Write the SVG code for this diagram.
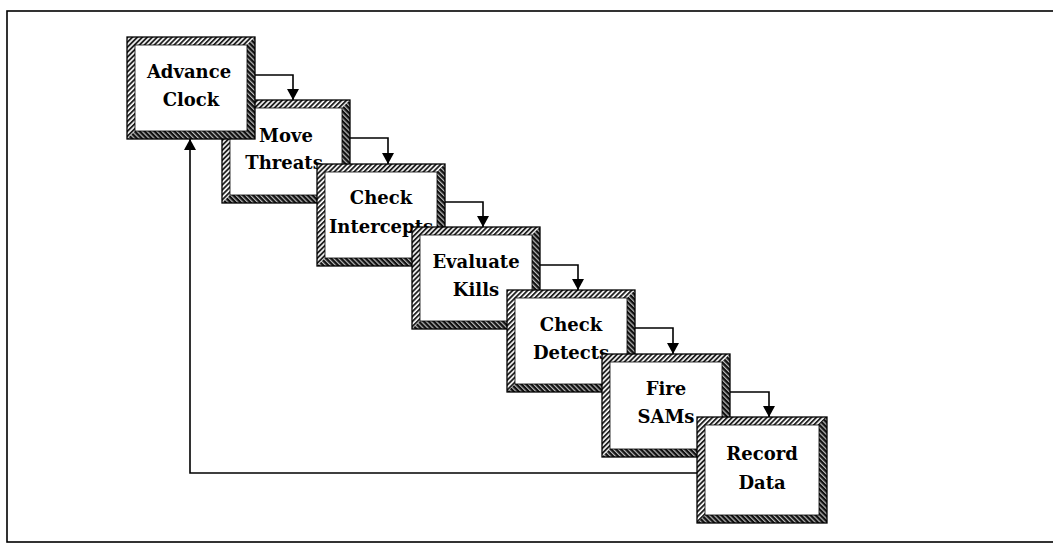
<svg xmlns="http://www.w3.org/2000/svg" width="1053" height="544" viewBox="0 0 1053 544">
<style>
.hl{fill:url(#hatch)}
.hd{fill:url(#hatchDark)}
.in{fill:#fff;stroke:#000;stroke-width:0.8}
.out{fill:none;stroke:#000;stroke-width:1.3}
.lbl{font-family:"DejaVu Serif","Liberation Serif",serif;font-weight:bold;font-size:18px;text-anchor:middle;fill:#000}
.con{fill:none;stroke:#000;stroke-width:1.6}
</style>
<defs>
<pattern id="hatch" width="3.5" height="3.5" patternUnits="userSpaceOnUse" patternTransform="rotate(45)"><rect width="3.5" height="3.5" fill="#fff"/><rect width="1.9" height="3.5" fill="#222"/></pattern>
<pattern id="hatchDark" width="3.5" height="3.5" patternUnits="userSpaceOnUse" patternTransform="rotate(-45)"><rect width="3.5" height="3.5" fill="#111"/><rect width="1.2" height="3.5" fill="#bbb"/></pattern>
<marker id="arr" markerUnits="userSpaceOnUse" markerWidth="13" markerHeight="13" refX="11" refY="6.5" orient="auto"><path d="M0,0.5 L11,6.5 L0,12.5 Z" fill="#000"/></marker>
</defs>
<rect width="1053" height="544" fill="#fff"/>
<rect x="7" y="11" width="1060" height="531" fill="none" stroke="#000" stroke-width="1.6"/>

<g id="move-threats">
<rect x="222" y="100" width="128" height="103" class="hl"/>
<path d="M350,100 V203 H222 L230,195 H342 V108 Z" class="hd"/>
<rect x="230" y="108" width="112" height="87" class="in"/>
<rect x="222" y="100" width="128" height="103" class="out"/>
<text x="286" y="142" class="lbl">Move</text>
<text x="284" y="169" class="lbl">Threats</text>
</g>
<g id="advance-clock">
<rect x="127" y="37" width="128" height="102" class="hl"/>
<path d="M255,37 V139 H127 L135,131 H247 V45 Z" class="hd"/>
<rect x="135" y="45" width="112" height="86" class="in"/>
<rect x="127" y="37" width="128" height="102" class="out"/>
<text x="189" y="78" class="lbl">Advance</text>
<text x="191" y="106" class="lbl">Clock</text>
</g>
<g id="check-intercepts">
<rect x="317" y="164" width="128" height="102" class="hl"/>
<path d="M445,164 V266 H317 L325,258 H437 V172 Z" class="hd"/>
<rect x="325" y="172" width="112" height="86" class="in"/>
<rect x="317" y="164" width="128" height="102" class="out"/>
<text x="381" y="204" class="lbl">Check</text>
<text x="381" y="233" class="lbl">Intercepts</text>
</g>
<g id="evaluate-kills">
<rect x="412" y="227" width="128" height="102" class="hl"/>
<path d="M540,227 V329 H412 L420,321 H532 V235 Z" class="hd"/>
<rect x="420" y="235" width="112" height="86" class="in"/>
<rect x="412" y="227" width="128" height="102" class="out"/>
<text x="476" y="268" class="lbl">Evaluate</text>
<text x="476" y="296" class="lbl">Kills</text>
</g>
<g id="check-detects">
<rect x="507" y="290" width="128" height="102" class="hl"/>
<path d="M635,290 V392 H507 L515,384 H627 V298 Z" class="hd"/>
<rect x="515" y="298" width="112" height="86" class="in"/>
<rect x="507" y="290" width="128" height="102" class="out"/>
<text x="571" y="331" class="lbl">Check</text>
<text x="571" y="359" class="lbl">Detects</text>
</g>
<g id="fire-sams">
<rect x="602" y="354" width="128" height="103" class="hl"/>
<path d="M730,354 V457 H602 L610,449 H722 V362 Z" class="hd"/>
<rect x="610" y="362" width="112" height="87" class="in"/>
<rect x="602" y="354" width="128" height="103" class="out"/>
<text x="666" y="395" class="lbl">Fire</text>
<text x="666" y="423" class="lbl">SAMs</text>
</g>
<g id="record-data">
<rect x="697" y="417" width="130" height="106" class="hl"/>
<path d="M827,417 V523 H697 L705,515 H819 V425 Z" class="hd"/>
<rect x="705" y="425" width="114" height="90" class="in"/>
<rect x="697" y="417" width="130" height="106" class="out"/>
<text x="762" y="460" class="lbl">Record</text>
<text x="762" y="489" class="lbl">Data</text>
</g>

<g id="connectors">
<path d="M255,75 H293 V100" class="con" marker-end="url(#arr)"/>
<path d="M350,138 H388 V164" class="con" marker-end="url(#arr)"/>
<path d="M445,202 H483 V227" class="con" marker-end="url(#arr)"/>
<path d="M540,265 H578 V290" class="con" marker-end="url(#arr)"/>
<path d="M635,328 H673 V354" class="con" marker-end="url(#arr)"/>
<path d="M730,392 H769 V417" class="con" marker-end="url(#arr)"/>
<path d="M697,473 H190 V139" class="con" marker-end="url(#arr)"/>
</g>
</svg>
